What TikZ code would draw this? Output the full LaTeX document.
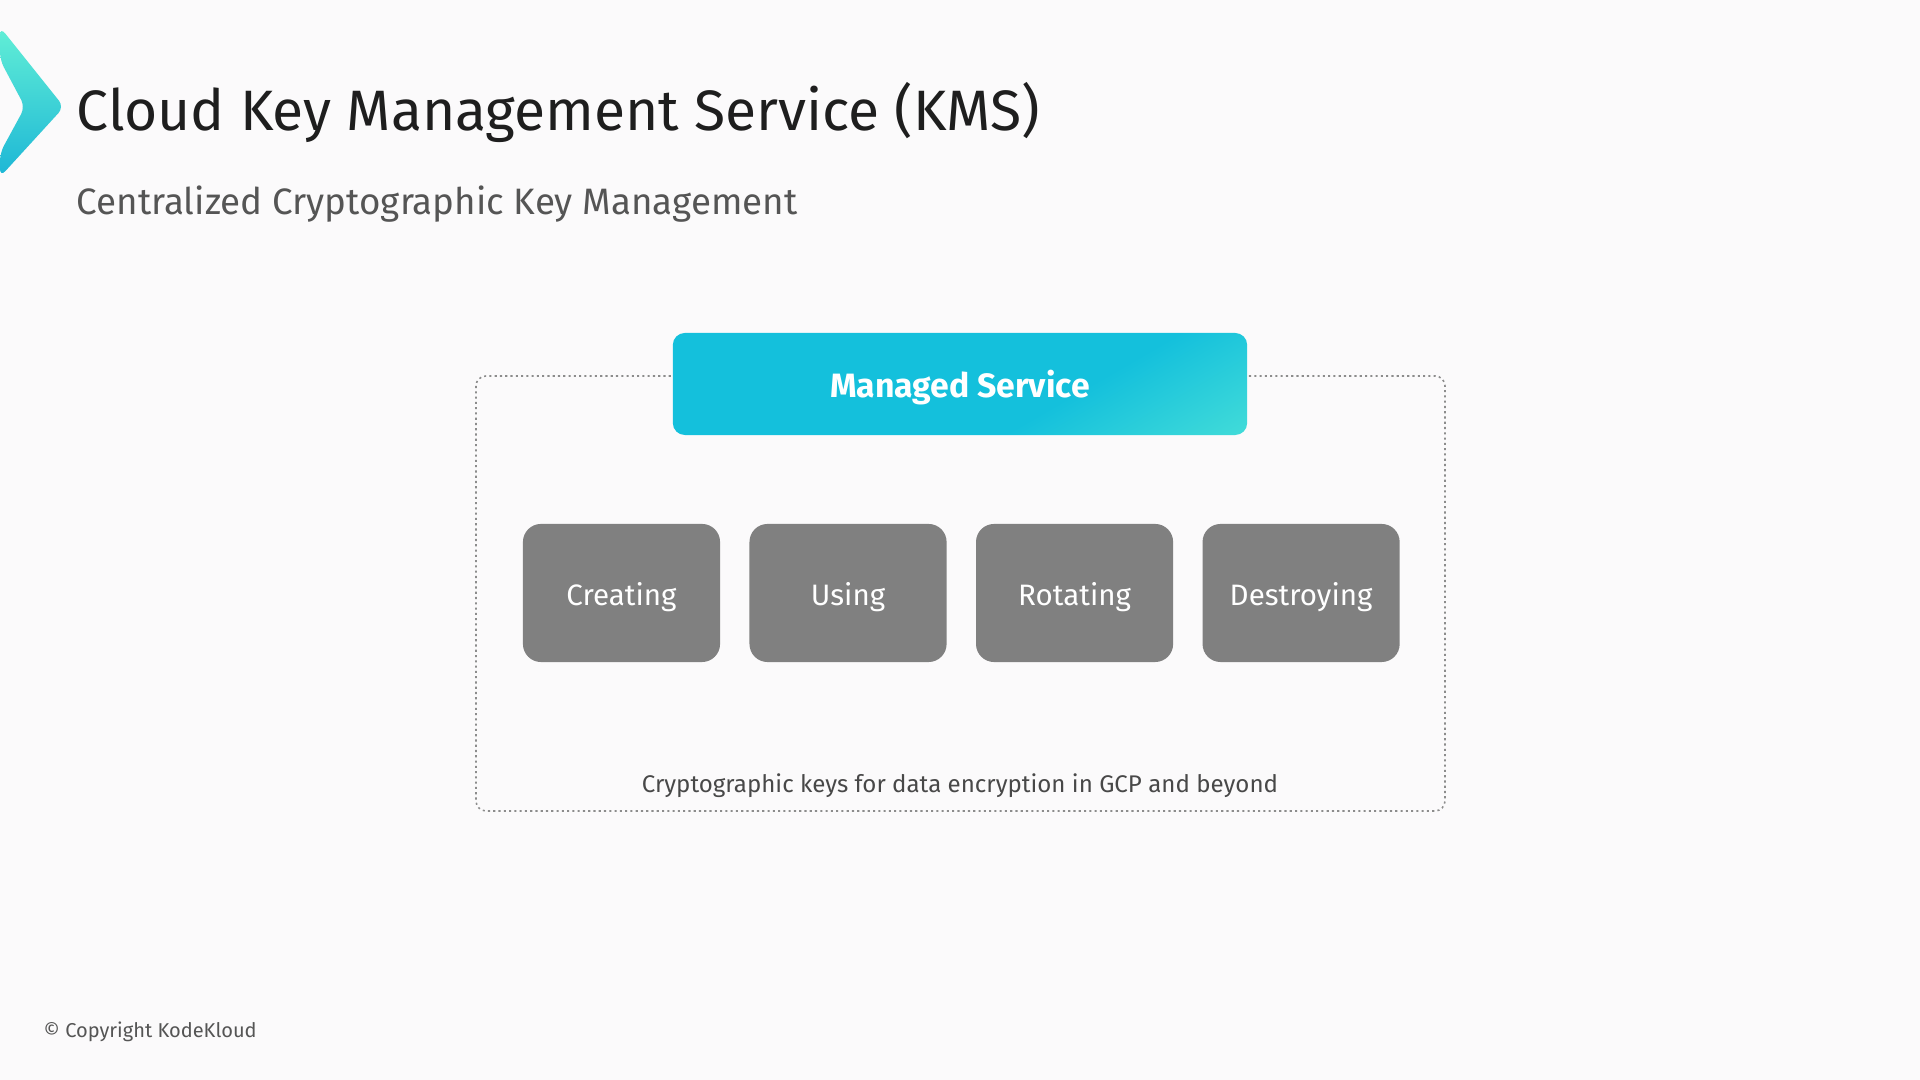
\documentclass[tikz,border=0pt]{standalone}
\usepackage{fontspec}
\setmainfont{Fira Sans}
\usetikzlibrary{positioning}

\definecolor{kmsbg}{HTML}{FBFAFB}
\definecolor{kmscyan}{HTML}{14C0DC}
\definecolor{kmsmint}{HTML}{62EFD6}
\definecolor{kmsteal}{HTML}{1CB6D6}
\definecolor{stagegray}{HTML}{808080}
\definecolor{titleink}{HTML}{1E1E1E}
\definecolor{subink}{HTML}{555555}
\definecolor{frameink}{HTML}{8C8C8C}

\pgfdeclarehorizontalshading{managedshade}{100bp}{rgb(0bp)=(0.078,0.753,0.863); rgb(62bp)=(0.078,0.753,0.863); rgb(100bp)=(0.384,0.937,0.839)}

\tikzset{
  stage/.style={fill=stagegray, rounded corners=0.18cm, minimum width=1.97cm, minimum height=1.38cm,
    text=white, font=\fontsize{8.4}{10}\selectfont, text height=0.7em, text depth=0pt},
  managed/.style={shading=managedshade, shading angle=-60, rounded corners=0.12cm,
    minimum width=5.74cm, minimum height=1.02cm, text=white, font=\bfseries\fontsize{9.6}{11}\selectfont,
    text height=0.76em, text depth=0pt},
}

\begin{document}
\begin{tikzpicture}[x=0.01cm, y=-0.01cm]
    % Page and its margins
    \fill[kmsbg] (0,0) rectangle (1920,1080);
    \useasboundingbox (0,0) rectangle (1920,1080);
    % Chevron mark at the top left
    \shade[top color=kmsmint, bottom color=kmsteal, rounded corners=0.08cm]
      (0,27) -- (64,107) -- (0,177) -- (0,153) -- (25,107) -- (0,60) -- cycle;
    % Headings
    \node[anchor=base west, inner sep=0, text=titleink, font=\fontsize{16.2}{20}\selectfont] (title) at (76,131) {Cloud Key Management Service (KMS)};
    \node[anchor=base west, inner sep=0, text=subink, font=\fontsize{10.45}{13}\selectfont] (subtitle) at (76,215) {Centralized Cryptographic Key Management};
    % Dotted frame round the key life cycle
    \draw[frameink, line width=0.45pt, dash pattern=on 0.6pt off 0.9pt, rounded corners=0.1cm] (476,376) rectangle (1445,811);
    % Managed service banner
    \node[managed] (service) at (960,384) {Managed Service};
    % Life cycle stages
    \node[stage] (create) at (621.5,593) {Creating};
    \node[stage, right=0.28cm of create] (use) {Using};
    \node[stage, right=0.28cm of use] (rotate) {Rotating};
    \node[stage, right=0.28cm of rotate] (destroy) {Destroying};
    % Caption and footer
    \node[anchor=base, inner sep=0, text=subink!85!black, font=\fontsize{6.85}{9}\selectfont] (caption) at (960,793) {Cryptographic keys for data encryption in GCP and beyond};
    \node[anchor=base west, inner sep=0, text=subink, font=\fontsize{5.7}{7}\selectfont] (copyright) at (43,1038) {© Copyright KodeKloud};
\end{tikzpicture}
\end{document}
